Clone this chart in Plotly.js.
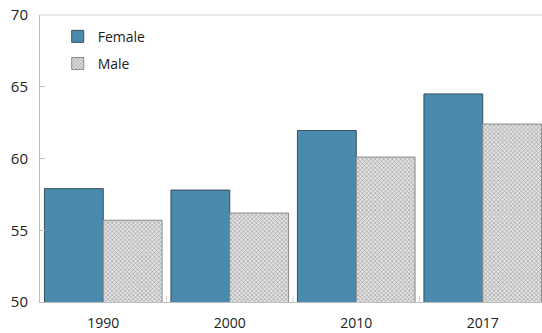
<!DOCTYPE html>
<html><head><meta charset="utf-8">
<script src="https://cdn.plot.ly/plotly-3.0.1.min.js"></script>
<style>html,body{margin:0;padding:0;background:#fff;overflow:hidden}</style>
</head><body><div id="chart" style="width:546px;height:333px"></div>
<script>
const years = ['1990', '2000', '2010', '2017'];
const female = [57.9, 57.8, 61.95, 64.5];
const male = [55.7, 56.2, 60.1, 62.4];

const data = [
  {type:'bar', name:'Female', legendgroup:'f', x:years, y:female,
   marker:{color:'#4a8bad', line:{color:'#3a4f5c', width:1}}},
  {type:'bar', name:'Male', legendgroup:'m', x:years, y:male,
   marker:{color:'#d0d0d0', line:{color:'#8a8a8a', width:1},
     pattern:{shape:'x', fgcolor:'#8a8a8a', bgcolor:'#e2e2e2', size:3, solidity:0.3}}}
];
const layout = {
  width:546, height:333,
  margin:{l:40, r:0, t:15, b:31},
  paper_bgcolor:'#fff', plot_bgcolor:'#fff',
  font:{family:'"Open Sans", sans-serif', size:14, color:'#222'},
  barmode:'group', bargap:0.07, bargroupgap:0,
  showlegend:true,
  legend:{x:0.035, y:0.98, xanchor:'left', yanchor:'top', bgcolor:'rgba(0,0,0,0)',
    font:{size:14, color:'#222'}, itemwidth:30, traceorder:'grouped', tracegroupgap:6},
  xaxis:{type:'category', showline:true, linecolor:'#bdbdbd', linewidth:1,
    ticks:'', showgrid:false, tickfont:{size:14}, zeroline:false, ticklabelstandoff:8},
  yaxis:{range:[50,70], dtick:5, showline:true, linecolor:'#bdbdbd', linewidth:1,
    ticks:'inside', ticklen:5, tickcolor:'#bdbdbd', showgrid:false, zeroline:false,
    tickfont:{size:15}, ticklabelstandoff:8},
  shapes:[
    {type:'line', xref:'paper', yref:'paper', x0:0, x1:1, y0:1, y1:1, line:{color:'#d0d0d0', width:1}}
  ]
};
for (let i = 1; i < years.length; i++) {
  layout.shapes.push({type:'line', xref:'x', yref:'paper', x0:i-0.5, x1:i-0.5, y0:0, y1:0.02, line:{color:'#cfcfcf', width:1}});
}
Plotly.newPlot('chart', data, layout, {displayModeBar:false, staticPlot:true});
</script></body></html>
